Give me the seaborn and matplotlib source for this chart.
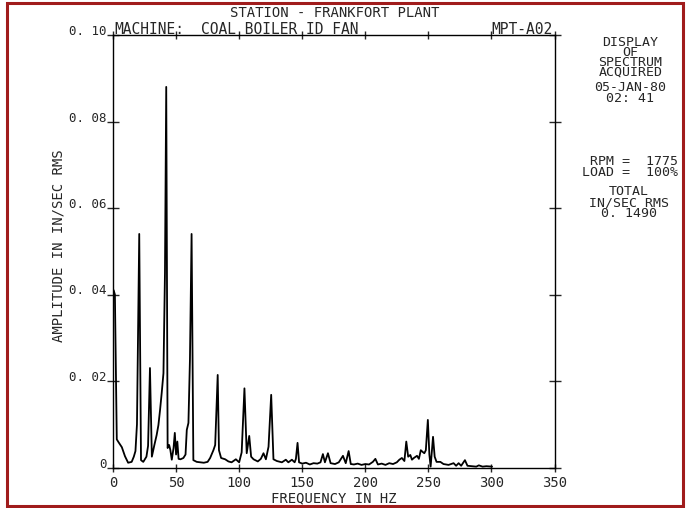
import matplotlib
matplotlib.use("Agg")
import matplotlib.pyplot as plt
from matplotlib.patches import Rectangle
import seaborn as sns
import pandas as pd

# spectrum trace (Hz, in/sec rms)
freq_hz = [
    0.5, 1.5, 3.0, 4.5, 7.0, 9.5, 12.0, 14.8, 16.5, 17.8, 19.0, 20.8, 22.2, 24.0,
    26.5, 27.8, 29.3, 30.8, 32.8, 34.6, 36.0, 37.3, 38.6, 40.0, 41.2, 42.2, 43.3,
    44.5, 45.5, 46.6, 48.0, 49.0, 50.0, 51.0, 52.0, 53.5, 55.8, 57.5, 58.5, 59.8,
    61.0, 62.3, 63.7, 66.4, 69.0, 72.0, 75.0, 77.0, 79.6, 81.0, 83.0, 84.0, 85.7,
    88.9, 91.5, 94.0, 97.4, 100.0, 102.0, 104.2, 106.0, 108.0, 109.5, 111.4, 114.8,
    117.2, 119.3, 121.2, 123.3, 125.4, 127.2, 129.9, 133.9, 137.0, 139.0, 141.8,
    144.0, 145.0, 146.3, 147.5, 150.0, 153.0, 156.0, 159.0, 162.0, 164.5, 166.4,
    168.0, 170.4, 172.5, 176.0, 179.0, 182.3, 184.5, 186.8, 188.5, 191.0, 194.0,
    197.0, 200.0, 203.0, 206.0, 208.0, 210.0, 213.0, 216.0, 219.0, 222.0, 225.0,
    227.0, 229.0, 231.0, 232.5, 234.0, 235.7, 237.0, 238.5, 241.0, 242.5, 244.0,
    245.5, 246.8, 248.0, 249.6, 250.8, 251.8, 253.7, 255.0, 256.5, 259.5, 262.0,
    266.0, 270.0, 272.0, 274.0, 276.0, 279.0, 281.0, 285.0, 288.0, 290.0, 293.0,
    296.0, 300.5,
]
amplitude = [
    0.041, 0.040, 0.0065, 0.0058, 0.0047, 0.0026, 0.0011, 0.0013, 0.0025, 0.0038,
    0.010, 0.054, 0.0017, 0.0013, 0.0025, 0.005, 0.023, 0.0025, 0.0052, 0.0075,
    0.0098, 0.0133, 0.0172, 0.0218, 0.045, 0.088, 0.0045, 0.0052, 0.0040, 0.0018,
    0.0045, 0.008, 0.0030, 0.0060, 0.0020, 0.0019, 0.0022, 0.0030, 0.0087, 0.0103,
    0.025, 0.054, 0.0017, 0.0013, 0.0012, 0.0011, 0.0013, 0.0022, 0.0040, 0.0052,
    0.0214, 0.0040, 0.0022, 0.0019, 0.0014, 0.0012, 0.0019, 0.0012, 0.0035, 0.0183,
    0.0033, 0.0073, 0.0025, 0.0019, 0.0014, 0.0020, 0.0033, 0.0019, 0.0048, 0.0168,
    0.0019, 0.0015, 0.0012, 0.0018, 0.0012, 0.0018, 0.0012, 0.0020, 0.0057, 0.0012,
    0.0009, 0.0011, 0.0007, 0.0010, 0.0009, 0.0012, 0.0031, 0.0012, 0.0033, 0.0010,
    0.0008, 0.0012, 0.0027, 0.0010, 0.0038, 0.0008, 0.0007, 0.0009, 0.0006, 0.0008,
    0.0007, 0.0013, 0.0020, 0.0007, 0.0009, 0.0006, 0.0010, 0.0008, 0.0012, 0.0018,
    0.0022, 0.0015, 0.0060, 0.0025, 0.0029, 0.0018, 0.0022, 0.0027, 0.0020, 0.0040,
    0.0036, 0.0033, 0.0040, 0.0110, 0.0030, 0.0002, 0.0071, 0.0025, 0.0013, 0.0013,
    0.0008, 0.0006, 0.0010, 0.0004, 0.0010, 0.0004, 0.0017, 0.0004, 0.0003, 0.0002,
    0.0005, 0.0002, 0.0003, 0.0002,
]

x_ticks = [0, 50, 100, 150, 200, 250, 300, 350]
y_ticks = [0, 0.02, 0.04, 0.06, 0.08, 0.10]
y_tick_labels = ["0", "0. 02", "0. 04", "0. 06", "0. 08", "0. 10"]

header_title = "STATION - FRANKFORT PLANT"
header_machine = "MACHINE:"
header_name = "COAL BOILER ID FAN"
header_point = "MPT-A02"
side_block_1 = ["DISPLAY", "OF", "SPECTRUM", "ACQUIRED"]
side_block_2 = ["05-JAN-80", "02: 41"]
side_block_3 = ["RPM =  1775", "LOAD =  100%"]
side_block_4 = ["TOTAL", "IN/SEC RMS", "0. 1490"]

df = pd.DataFrame({"freq": freq_hz, "amp": amplitude})

sns.set_style("ticks")
plt.rcParams["font.family"] = ["DejaVu Sans Mono", "DejaVu Sans"]
plt.rcParams["axes.linewidth"] = 1.0

W, H = 686, 508
fig = plt.figure(figsize=(W / 100, H / 100), dpi=100)
ax = fig.add_axes([113 / W, 1 - 467.5 / H, 441.5 / W, 432.5 / H])

sns.lineplot(data=df, x="freq", y="amp", ax=ax, color="black", linewidth=1.3,
             sort=False, estimator=None)

ax.set_xlim(0, 350)
ax.set_ylim(0, 0.10)
ax.set_xticks(x_ticks)
ax.set_xticklabels([str(t) for t in x_ticks])
ax.set_yticks(y_ticks)
ax.set_yticklabels(y_tick_labels)
for lab in ax.get_yticklabels():
    lab.set_va("baseline")
for s in ax.spines.values():
    s.set_visible(True)
    s.set_color("black")

ax.tick_params(axis="y", direction="inout", length=8, width=1.0, pad=0.5,
               labelsize=9, right=True, labelright=False)
ax.tick_params(axis="x", direction="inout", length=6, width=1.0, pad=3,
               labelsize=10, top=True, labeltop=False)

ax.set_xlabel("FREQUENCY IN HZ", fontsize=10, va="top")
ax.xaxis.set_label_coords(0.5, -0.055)
ax.set_ylabel("AMPLITUDE IN IN/SEC RMS", fontsize=10, va="center")
ax.yaxis.set_label_coords(-0.124, 0.514)

# header over the plot
fig.text(334.5 / W, 1 - 13 / H, header_title, ha="center", va="center", fontsize=10)
fig.text(114 / W, 1 - 29.5 / H, header_machine, ha="left", va="center", fontsize=10.5)
fig.text(201 / W, 1 - 29.5 / H, header_name, ha="left", va="center", fontsize=10.5)
fig.text(553 / W, 1 - 29.5 / H, header_point, ha="right", va="center", fontsize=10.5)

# side panel, one text per block, lines packed tight like the plotter did
fig.text(630.5 / W, 1 - 57 / H, "\n".join(side_block_1), ha="center", va="center",
         multialignment="center", fontsize=9.5, linespacing=0.7)
fig.text(630.5 / W, 1 - 93 / H, "\n".join(side_block_2), ha="center", va="center",
         multialignment="center", fontsize=9.5, linespacing=0.76)
fig.text(678 / W, 1 - 167 / H, "\n".join(side_block_3), ha="right", va="center",
         multialignment="right", fontsize=9.5, linespacing=0.82)
fig.text(629 / W, 1 - 202.5 / H, "\n".join(side_block_4), ha="center", va="center",
         multialignment="center", fontsize=9.5, linespacing=0.8)

# red frame round the scan
fig.patches.append(Rectangle((7 / W, 2.5 / H), 676 / W, 503 / H, transform=fig.transFigure,
                             fill=False, edgecolor="#a01c1c", linewidth=2.2))

fig.savefig("out.png", dpi=100)
